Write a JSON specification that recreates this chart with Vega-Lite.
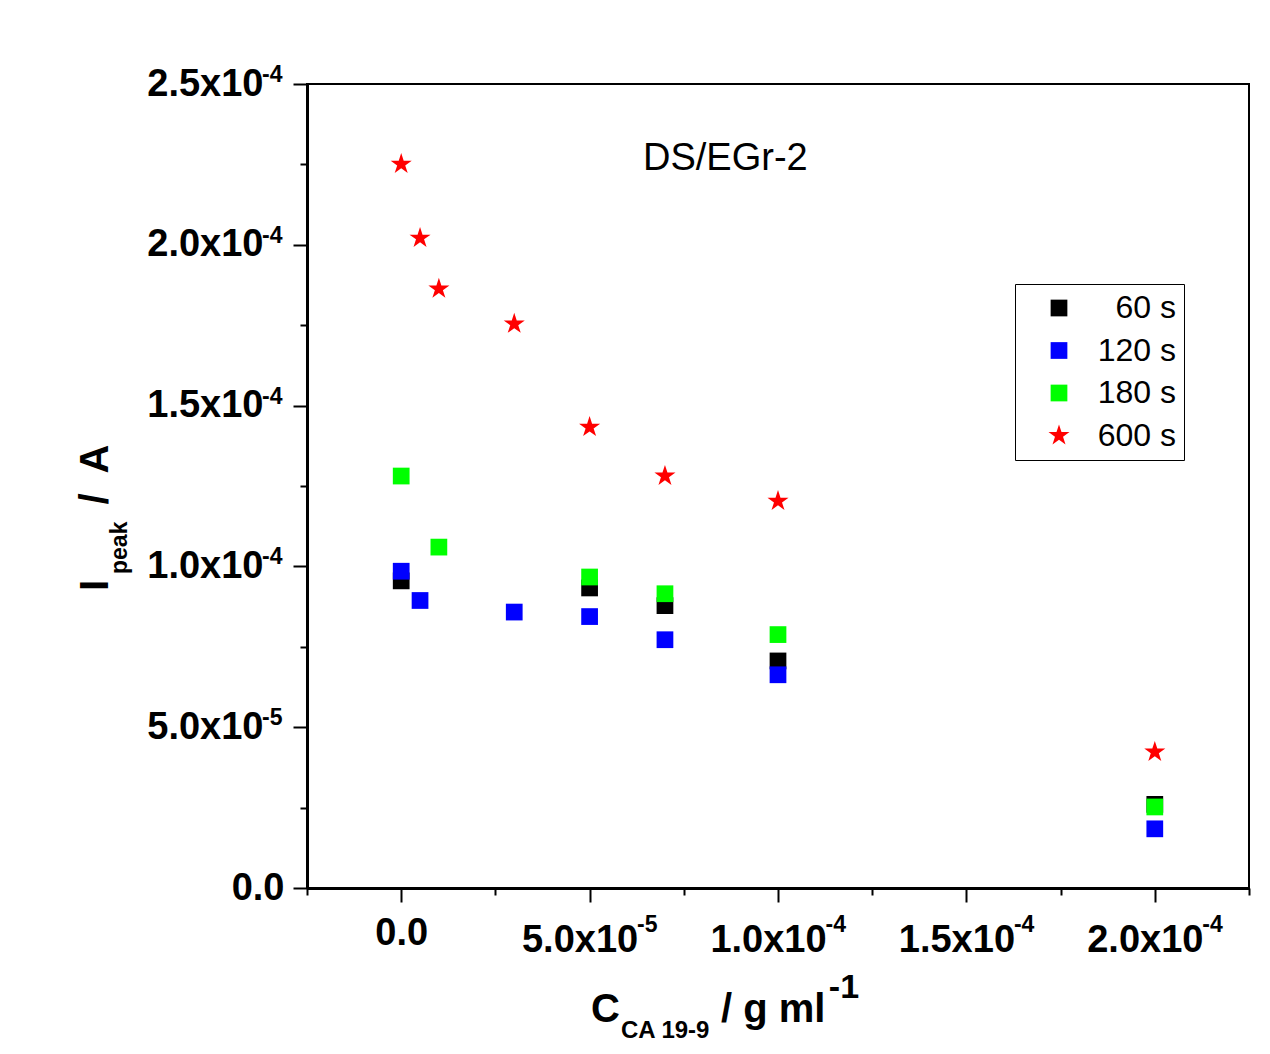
{
  "$schema": "https://vega.github.io/schema/vega-lite/v6.json",
  "width": 942,
  "height": 804,
  "autosize": "none",
  "padding": {"left": 307, "top": 84, "right": 21, "bottom": 166},
  "background": "white",
  "config": {
    "view": {"stroke": "black", "strokeWidth": 2},
    "font": "Liberation Sans"
  },
  "resolve": {"axis": {"x": "independent", "y": "independent"}},
  "datasets": {
    "pts": [
      {"c": 0, "i": 9.55e-5, "series": "60 s"},
      {"c": 5e-5, "i": 9.33e-5, "series": "60 s"},
      {"c": 7e-5, "i": 8.78e-5, "series": "60 s"},
      {"c": 1e-4, "i": 7.06e-5, "series": "60 s"},
      {"c": 2e-4, "i": 2.60e-5, "series": "60 s"},
      {"c": 0, "i": 9.85e-5, "series": "120 s"},
      {"c": 5e-6, "i": 8.94e-5, "series": "120 s"},
      {"c": 3e-5, "i": 8.58e-5, "series": "120 s"},
      {"c": 5e-5, "i": 8.44e-5, "series": "120 s"},
      {"c": 7e-5, "i": 7.72e-5, "series": "120 s"},
      {"c": 1e-4, "i": 6.63e-5, "series": "120 s"},
      {"c": 2e-4, "i": 1.84e-5, "series": "120 s"},
      {"c": 0, "i": 1.281e-4, "series": "180 s"},
      {"c": 1e-5, "i": 1.06e-4, "series": "180 s"},
      {"c": 5e-5, "i": 9.67e-5, "series": "180 s"},
      {"c": 7e-5, "i": 9.15e-5, "series": "180 s"},
      {"c": 1e-4, "i": 7.88e-5, "series": "180 s"},
      {"c": 2e-4, "i": 2.52e-5, "series": "180 s"},
      {"c": 0, "i": 2.251e-4, "series": "600 s"},
      {"c": 5e-6, "i": 2.021e-4, "series": "600 s"},
      {"c": 1e-5, "i": 1.863e-4, "series": "600 s"},
      {"c": 3e-5, "i": 1.754e-4, "series": "600 s"},
      {"c": 5e-5, "i": 1.433e-4, "series": "600 s"},
      {"c": 7e-5, "i": 1.281e-4, "series": "600 s"},
      {"c": 1e-4, "i": 1.203e-4, "series": "600 s"},
      {"c": 2e-4, "i": 4.23e-5, "series": "600 s"}
    ],
    "yexp": [
      {"v": 0.00005, "e": "-5"},
      {"v": 0.0001, "e": "-4"},
      {"v": 0.00015, "e": "-4"},
      {"v": 0.0002, "e": "-4"},
      {"v": 0.00025, "e": "-4"}
    ],
    "xexp": [
      {"v": 0.00005, "e": "-5"},
      {"v": 0.0001, "e": "-4"},
      {"v": 0.00015, "e": "-4"},
      {"v": 0.0002, "e": "-4"}
    ]
  },
  "layer": [
    {
      "data": {"name": "pts"},
      "mark": {"type": "point", "filled": true, "opacity": 1, "strokeWidth": 0},
      "encoding": {
        "x": {
          "field": "c", "type": "quantitative",
          "scale": {"domain": [-0.000025, 0.000225], "nice": false, "zero": false},
          "axis": {
            "orient": "bottom",
            "values": [-0.000025, 0, 0.000025, 0.00005, 0.000075, 0.0001, 0.000125, 0.00015, 0.000175, 0.0002, 0.000225],
            "title": null, "grid": false,
            "domainColor": "black", "domainWidth": 3,
            "tickColor": "black", "tickWidth": 2,
            "tickSize": {"condition": {"test": "abs(datum.value/0.00005 - round(datum.value/0.00005)) < 0.01", "value": 14}, "value": 7},
            "labelExpr": "abs(datum.value) < 1e-9 ? '0.0' : abs(datum.value-0.00005) < 1e-9 ? '5.0x10' : abs(datum.value-0.0001) < 1e-9 ? '1.0x10' : abs(datum.value-0.00015) < 1e-9 ? '1.5x10' : abs(datum.value-0.0002) < 1e-9 ? '2.0x10' : ''",
            "labelFont": "Liberation Sans", "labelFontWeight": "bold", "labelFontSize": 38, "labelColor": "black",
            "labelPadding": {"condition": {"test": "abs(datum.value) < 1e-9", "value": 12}, "value": 19},
            "labelOffset": {"condition": {"test": "abs(datum.value) < 1e-9", "value": 0}, "value": -10},
            "labelOverlap": false, "labelFlush": false, "labelBound": false
          }
        },
        "y": {
          "field": "i", "type": "quantitative",
          "scale": {"domain": [0, 0.00025], "nice": false, "zero": false},
          "axis": {
            "orient": "left",
            "values": [0, 0.000025, 0.00005, 0.000075, 0.0001, 0.000125, 0.00015, 0.000175, 0.0002, 0.000225, 0.00025],
            "title": null, "grid": false,
            "domainColor": "black", "domainWidth": 3,
            "tickColor": "black", "tickWidth": 2,
            "tickSize": {"condition": {"test": "abs(datum.value/0.00005 - round(datum.value/0.00005)) < 0.01", "value": 14}, "value": 7},
            "labelExpr": "abs(datum.value) < 1e-9 ? '0.0' : abs(datum.value-0.00005) < 1e-9 ? '5.0x10' : abs(datum.value-0.0001) < 1e-9 ? '1.0x10' : abs(datum.value-0.00015) < 1e-9 ? '1.5x10' : abs(datum.value-0.0002) < 1e-9 ? '2.0x10' : abs(datum.value-0.00025) < 1e-9 ? '2.5x10' : ''",
            "labelFont": "Liberation Sans", "labelFontWeight": "bold", "labelFontSize": 38, "labelColor": "black",
            "labelPadding": {"condition": {"test": "abs(datum.value) < 1e-9", "value": 9}, "value": 30},
            "labelOverlap": false, "labelFlush": false, "labelBound": false
          }
        },
        "color": {
          "field": "series", "type": "nominal",
          "scale": {"domain": ["60 s", "120 s", "180 s", "600 s"], "range": ["#000000", "#0000ff", "#00ff00", "#ff0000"]},
          "legend": {"title": null, "orient": "none", "legendX": 708, "legendY": 200, "padding": 8, "strokeColor": "black", "fillColor": "white", "labelFont": "Liberation Sans", "labelFontSize": 32, "labelColor": "black", "labelAlign": "right", "labelOffset": 101, "symbolOffset": 20, "rowPadding": 10.5, "labelLimit": 300}
        },
        "shape": {
          "field": "series", "type": "nominal",
          "scale": {"domain": ["60 s", "120 s", "180 s", "600 s"], "range": ["square", "square", "square", "M0,-1L0.2245,-0.309L0.9511,-0.309L0.3633,0.118L0.5878,0.809L0,0.382L-0.5878,0.809L-0.3633,0.118L-0.9511,-0.309L-0.2245,-0.309Z"]},
          "legend": {"title": null, "orient": "none", "legendX": 708, "legendY": 200, "padding": 8, "strokeColor": "black", "fillColor": "white", "labelFont": "Liberation Sans", "labelFontSize": 32, "labelColor": "black", "labelAlign": "right", "labelOffset": 101, "symbolOffset": 20, "rowPadding": 10.5, "labelLimit": 300}
        },
        "size": {
          "field": "series", "type": "nominal",
          "scale": {"type": "ordinal", "domain": ["60 s", "120 s", "180 s", "600 s"], "range": [280, 280, 280, 490]},
          "legend": {"title": null, "orient": "none", "legendX": 708, "legendY": 200, "padding": 8, "strokeColor": "black", "fillColor": "white", "labelFont": "Liberation Sans", "labelFontSize": 32, "labelColor": "black", "labelAlign": "right", "labelOffset": 101, "symbolOffset": 20, "rowPadding": 10.5, "labelLimit": 300}
        }
      }
    },
    {
      "data": {"name": "yexp"},
      "mark": {"type": "text", "font": "Liberation Sans", "fontWeight": "bold", "fontSize": 23, "align": "left", "baseline": "alphabetic", "dx": -45, "dy": -2, "color": "black"},
      "encoding": {
        "text": {"field": "e"},
        "x": {"datum": -0.000025, "type": "quantitative", "axis": null},
        "y": {"field": "v", "type": "quantitative", "axis": null}
      }
    },
    {
      "data": {"name": "xexp"},
      "mark": {"type": "text", "font": "Liberation Sans", "fontWeight": "bold", "fontSize": 23, "align": "left", "baseline": "alphabetic", "dx": 47.5, "dy": 44, "color": "black"},
      "encoding": {
        "text": {"field": "e"},
        "x": {"field": "v", "type": "quantitative", "axis": null},
        "y": {"datum": 0, "type": "quantitative", "axis": null}
      }
    },
    {
      "data": {"values": [{"t": "DS/EGr-2"}]},
      "mark": {"type": "text", "font": "Liberation Sans", "fontSize": 38, "align": "left", "baseline": "alphabetic", "color": "black"},
      "encoding": {
        "text": {"field": "t"},
        "x": {"datum": 0.00006417, "type": "quantitative", "axis": null},
        "y": {"datum": 0.00022326, "type": "quantitative", "axis": null}
      }
    },
    {
      "data": {"values": [{"t": "I"}]},
      "mark": {"type": "text", "font": "Liberation Sans", "fontWeight": "bold", "fontSize": 40, "angle": 270, "align": "left", "baseline": "alphabetic", "dy": -199, "color": "black"},
      "encoding": {
        "text": {"field": "t"},
        "x": {"datum": -0.000025, "type": "quantitative", "axis": null},
        "y": {"datum": 0.00009235, "type": "quantitative", "axis": null}
      }
    },
    {
      "data": {"values": [{"t": "peak"}]},
      "mark": {"type": "text", "font": "Liberation Sans", "fontWeight": "bold", "fontSize": 23, "angle": 270, "align": "left", "baseline": "alphabetic", "dy": -180, "color": "black"},
      "encoding": {
        "text": {"field": "t"},
        "x": {"datum": -0.000025, "type": "quantitative", "axis": null},
        "y": {"datum": 0.00009764, "type": "quantitative", "axis": null}
      }
    },
    {
      "data": {"values": [{"t": "/"}]},
      "mark": {"type": "text", "font": "Liberation Sans", "fontWeight": "bold", "fontSize": 40, "angle": 270, "align": "center", "baseline": "alphabetic", "dy": -199, "color": "black"},
      "encoding": {
        "text": {"field": "t"},
        "x": {"datum": -0.000025, "type": "quantitative", "axis": null},
        "y": {"datum": 0.00012096, "type": "quantitative", "axis": null}
      }
    },
    {
      "data": {"values": [{"t": "A"}]},
      "mark": {"type": "text", "font": "Liberation Sans", "fontWeight": "bold", "fontSize": 40, "angle": 270, "align": "center", "baseline": "alphabetic", "dy": -199, "color": "black"},
      "encoding": {
        "text": {"field": "t"},
        "x": {"datum": -0.000025, "type": "quantitative", "axis": null},
        "y": {"datum": 0.0001334, "type": "quantitative", "axis": null}
      }
    },
    {
      "data": {"values": [{"t": "C"}]},
      "mark": {"type": "text", "font": "Liberation Sans", "fontWeight": "bold", "fontSize": 40, "align": "left", "baseline": "alphabetic", "dy": 134, "color": "black"},
      "encoding": {
        "text": {"field": "t"},
        "x": {"datum": 0.00005037, "type": "quantitative", "axis": null},
        "y": {"datum": 0, "type": "quantitative", "axis": null}
      }
    },
    {
      "data": {"values": [{"t": "CA 19-9"}]},
      "mark": {"type": "text", "font": "Liberation Sans", "fontWeight": "bold", "fontSize": 24, "align": "left", "baseline": "alphabetic", "dy": 150, "color": "black"},
      "encoding": {
        "text": {"field": "t"},
        "x": {"datum": 0.00005833, "type": "quantitative", "axis": null},
        "y": {"datum": 0, "type": "quantitative", "axis": null}
      }
    },
    {
      "data": {"values": [{"t": "/ g ml"}]},
      "mark": {"type": "text", "font": "Liberation Sans", "fontWeight": "bold", "fontSize": 40, "align": "left", "baseline": "alphabetic", "dy": 134, "color": "black"},
      "encoding": {
        "text": {"field": "t"},
        "x": {"datum": 0.00008487, "type": "quantitative", "axis": null},
        "y": {"datum": 0, "type": "quantitative", "axis": null}
      }
    },
    {
      "data": {"values": [{"t": "-1"}]},
      "mark": {"type": "text", "font": "Liberation Sans", "fontWeight": "bold", "fontSize": 34, "align": "left", "baseline": "alphabetic", "dy": 110, "color": "black"},
      "encoding": {
        "text": {"field": "t"},
        "x": {"datum": 0.0001135, "type": "quantitative", "axis": null},
        "y": {"datum": 0, "type": "quantitative", "axis": null}
      }
    }
  ]
}
